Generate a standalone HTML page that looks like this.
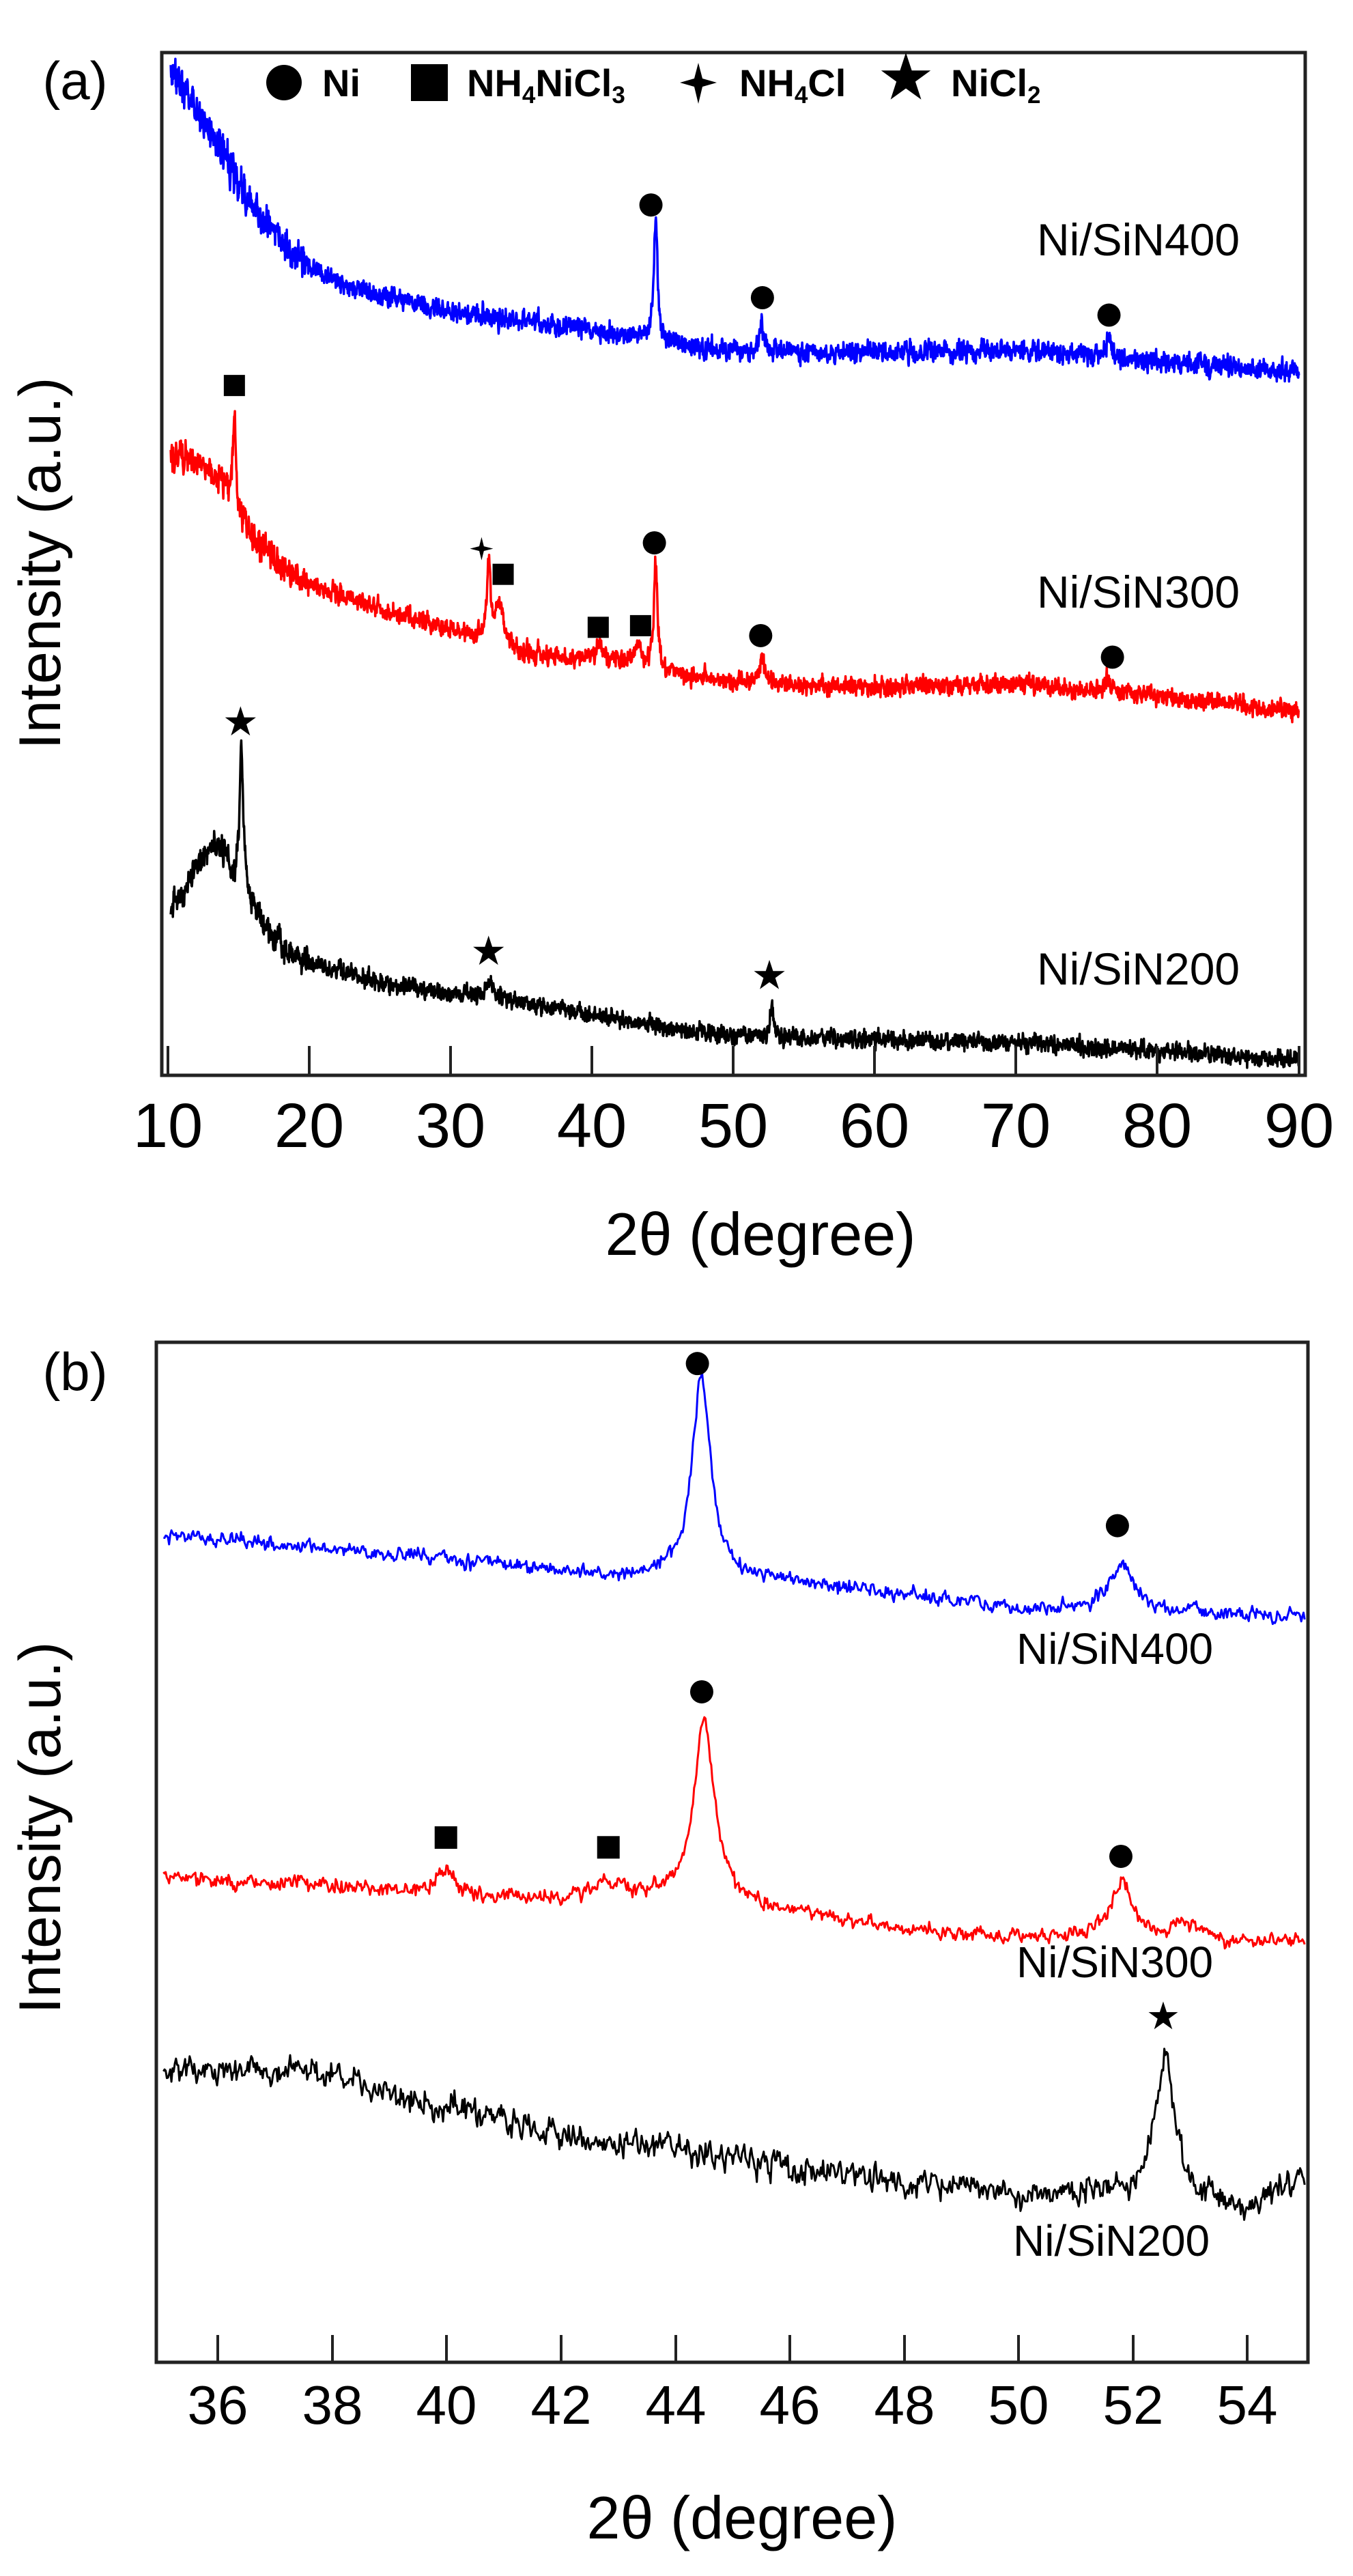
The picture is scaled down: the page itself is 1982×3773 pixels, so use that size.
<!DOCTYPE html>
<html><head><meta charset="utf-8"><style>
html,body{margin:0;padding:0;background:#fff}
svg{display:block}
text{font-family:"Liberation Sans",Arial,sans-serif}
</style></head><body>
<svg id="s" width="1982" height="3773" xmlns="http://www.w3.org/2000/svg">
<rect width="1982" height="3773" fill="#fff"/>
<g id="curves"></g>
<rect x="237" y="77" width="1675" height="1498" fill="none" stroke="#222" stroke-width="5"/>
<g stroke="#222" stroke-width="4">
<line x1="246" y1="1575" x2="246" y2="1532"/><line x1="453" y1="1575" x2="453" y2="1532"/><line x1="660" y1="1575" x2="660" y2="1532"/><line x1="867" y1="1575" x2="867" y2="1532"/><line x1="1074" y1="1575" x2="1074" y2="1532"/><line x1="1281" y1="1575" x2="1281" y2="1532"/><line x1="1488" y1="1575" x2="1488" y2="1532"/><line x1="1695" y1="1575" x2="1695" y2="1532"/><line x1="1903" y1="1575" x2="1903" y2="1532"/>
</g>
<g font-size="92" text-anchor="middle" fill="#000">
<text x="246" y="1680">10</text><text x="453" y="1680">20</text><text x="660" y="1680">30</text><text x="867" y="1680">40</text><text x="1074" y="1680">50</text><text x="1281" y="1680">60</text><text x="1488" y="1680">70</text><text x="1695" y="1680">80</text><text x="1903" y="1680">90</text>
</g>
<text x="1114" y="1838" font-size="88" text-anchor="middle">2θ (degree)</text>
<text x="110" y="145" font-size="78" text-anchor="middle">(a)</text>
<text transform="translate(88,825) rotate(-90)" font-size="86" text-anchor="middle">Intensity (a.u.)</text>
<g font-size="56" font-weight="bold" fill="#000">
<circle cx="416" cy="121" r="26"/>
<text x="472" y="141">Ni</text>
<rect x="602" y="94" width="54" height="54"/>
<text x="684" y="141">NH<tspan font-size="35" dy="10">4</tspan><tspan dy="-10">NiCl</tspan><tspan font-size="35" dy="10">3</tspan></text>
<path d="M1023,92 L1029,115 L1050,121 L1029,127 L1023,152 L1017,127 L996,121 L1017,115Z"/>
<text x="1083" y="141">NH<tspan font-size="35" dy="10">4</tspan><tspan dy="-10">Cl</tspan></text>
<text x="1327" y="142" font-size="84" text-anchor="middle">★</text>
<text x="1393" y="141">NiCl<tspan font-size="35" dy="10">2</tspan></text>
</g>
<g font-size="66" fill="#000">
<text x="1519" y="374">Ni/SiN400</text>
<text x="1519" y="890">Ni/SiN300</text>
<text x="1519" y="1442">Ni/SiN200</text>
</g>
<rect x="229" y="1966" width="1687" height="1494" fill="none" stroke="#222" stroke-width="5"/>
<g stroke="#222" stroke-width="4">
<line x1="319" y1="3460" x2="319" y2="3420"/><line x1="487" y1="3460" x2="487" y2="3420"/><line x1="654" y1="3460" x2="654" y2="3420"/><line x1="822" y1="3460" x2="822" y2="3420"/><line x1="990" y1="3460" x2="990" y2="3420"/><line x1="1157" y1="3460" x2="1157" y2="3420"/><line x1="1325" y1="3460" x2="1325" y2="3420"/><line x1="1492" y1="3460" x2="1492" y2="3420"/><line x1="1660" y1="3460" x2="1660" y2="3420"/><line x1="1827" y1="3460" x2="1827" y2="3420"/>
</g>
<g font-size="80" text-anchor="middle" fill="#000">
<text x="319" y="3550">36</text><text x="487" y="3550">38</text><text x="654" y="3550">40</text><text x="822" y="3550">42</text><text x="990" y="3550">44</text><text x="1157" y="3550">46</text><text x="1325" y="3550">48</text><text x="1492" y="3550">50</text><text x="1660" y="3550">52</text><text x="1827" y="3550">54</text>
</g>
<text x="1087" y="3718" font-size="88" text-anchor="middle">2θ (degree)</text>
<text x="110" y="2036" font-size="78" text-anchor="middle">(b)</text>
<text transform="translate(88,2677) rotate(-90)" font-size="86" text-anchor="middle">Intensity (a.u.)</text>
<g font-size="64" fill="#000">
<text x="1489" y="2437">Ni/SiN400</text>
<text x="1489" y="2896">Ni/SiN300</text>
<text x="1484" y="3304">Ni/SiN200</text>
</g>
<g id="marks"></g>
</svg>
<script>
(function(){
var NS="http://www.w3.org/2000/svg";
var st=987654321;
function rnd(){st=(st+0x6D2B79F5)|0;var t=Math.imul(st^(st>>>15),1|st);t=(t+Math.imul(t^(t>>>7),61|t))^t;return ((t^(t>>>14))>>>0)/4294967296;}
function gn(){return (rnd()+rnd()+rnd()-1.5)/1.5;}
function interp(pts,xv){for(var i=0;i<pts.length-1;i++){if(xv<=pts[i+1][0]){var t=(xv-pts[i][0])/(pts[i+1][0]-pts[i][0]);return pts[i][1]+t*(pts[i+1][1]-pts[i][1]);}}return pts[pts.length-1][1];}
function lor(xv,c,h,w){var d=(xv-c)/w;return h/(1+d*d);}
function mk(tag,attrs,parent){var e=document.createElementNS(NS,tag);for(var k in attrs)e.setAttribute(k,attrs[k]);parent.appendChild(e);return e;}
var cg=document.getElementById('curves'),mg=document.getElementById('marks');
function pxA(v){return 246+(v-10)*20.71;}
function pyA(z){return 77+(z-63)*1.213;}
function pxB(v){return 319+(v-36)*83.8;}
function pyB(z){return 1966+(z-57)*1.199;}
function series(fx,fy,x0,x1,n,base,peaks,nfn,color,sw){
 var parts=[];var prev=0;
 for(var i=0;i<=n;i++){var xv=x0+(x1-x0)*i/n;var z=interp(base,xv);
  for(var j=0;j<peaks.length;j++)z-=lor(xv,peaks[j][0],peaks[j][1],peaks[j][2]);
  var nz=gn()*nfn(xv);prev=0.35*prev+nz;z+=prev;
  parts.push((i?"L":"M")+fx(xv).toFixed(1)+","+fy(z).toFixed(1));}
 mk("path",{d:parts.join(""),fill:"none",stroke:color,"stroke-width":sw,"stroke-linejoin":"round"},cg);}
series(pxA,pyA,10.2,90,3200,[[10,80],[11,110],[12,130],[13,160],[14,190],[15,220],[16,250],[17,270],[18,290],[20,320],[22,340],[25,355],[30,375],[35,388],[40,398],[43,405],[47,418],[52,425],[60,425],[70,422],[80,435],[90,450]],
 [[44.5,150,0.15],[52,35,0.2],[76.5,30,0.15]],function(v){return v<20?30:17;},"#0000ff",3.5);
series(pxA,pyA,10.2,90,3200,[[10,550],[12,555],[14,585],[15,620],[16,650],[18,685],[20,705],[25,735],[30,760],[32,770],[35,790],[40,795],[43,800],[46,815],[52,825],[60,830],[70,825],[80,840],[90,858]],
 [[14.7,115,0.12],[32.7,95,0.15],[33.5,45,0.4],[40.5,15,0.3],[43.3,20,0.3],[44.5,130,0.15],[52,35,0.2],[76.5,20,0.2]],function(v){return v<20?26:16;},"#ff0000",3.5);
series(pxA,pyA,10.2,90,3200,[[10,1100],[11,1080],[12,1050],[13,1020],[14,1030],[14.7,1060],[15.6,1080],[16,1100],[18,1140],[20,1160],[25,1185],[30,1200],[35,1210],[40,1225],[45,1240],[50,1250],[60,1255],[70,1258],[80,1268],[90,1280]],
 [[15.2,170,0.15],[32.8,20,0.3],[52.7,45,0.12]],function(v){return v<20?24:15;},"#000000",3.5);
series(pxB,pyB,35.05,55,1000,[[35,292],[38,310],[40,322],[42,338],[44,345],[46,350],[48,365],[50,382],[52,385],[55,393]],
 [[44.45,245,0.2],[51.8,55,0.25]],function(){return 13;},"#0000ff",3);
series(pxB,pyB,35.05,55,1000,[[35,710],[38,722],[40,730],[42,740],[43.5,738],[46,755],[48,775],[50,785],[52,785],[54,790],[55,790]],
 [[40,25,0.2],[42.8,22,0.3],[44.5,225,0.22],[51.8,70,0.22],[52.9,20,0.3]],function(){return 13;},"#ff0000",3);
series(pxB,pyB,35.05,55,1000,[[35,950],[37.5,945],[40,990],[42,1030],[44,1040],[46,1065],[48,1085],[50,1095],[52,1100],[53,1100],[54,1120],[55,1070]],
 [[52.55,175,0.2]],function(){return 24;},"#000000",3);
function za(zx){return 237+(zx-187)*1.266;}
function zb(zx){return 319+(zx-253)*1.266;}
function circ(X,Y,r){mk("circle",{cx:X,cy:Y,r:r,fill:"#000"},mg);}
function sq(X,Y,s){mk("rect",{x:X-s/2,y:Y-s/2,width:s,height:s,fill:"#000"},mg);}
function star(X,Y,s){var t=mk("text",{x:X,y:Y+s*0.36,"font-size":s*1.4,"text-anchor":"middle",fill:"#000"},mg);t.textContent="★";}
function plus(X,Y,s){mk("path",{d:"M"+X+","+(Y-s)+" L"+(X+s*0.2)+","+(Y-s*0.2)+" L"+(X+s)+","+Y+" L"+(X+s*0.2)+","+(Y+s*0.2)+" L"+X+","+(Y+s)+" L"+(X-s*0.2)+","+(Y+s*0.2)+" L"+(X-s)+","+Y+" L"+(X-s*0.2)+","+(Y-s*0.2)+"Z",fill:"#000"},mg);}
[[753,247],[882,359],[1283,380],[757,655],[880,767],[1287,793]].forEach(function(p){circ(za(p[0]),pyA(p[1]),17);});
[[271,465],[582,693],[692,757],[741,755]].forEach(function(p){sq(za(p[0]),pyA(p[1]),31);});
plus(za(557),pyA(662),17);
[[278,875],[565,1152],[890,1181]].forEach(function(p){star(za(p[0]),pyA(p[1]),42);});
[[808,83],[1294,281],[813,484],[1298,685]].forEach(function(p){circ(zb(p[0]),pyB(p[1]),17);});
[[517,662],[705,674]].forEach(function(p){sq(zb(p[0]),pyB(p[1]),33);});
star(zb(1347),pyB(884),40);
})();
</script>
</body></html>
